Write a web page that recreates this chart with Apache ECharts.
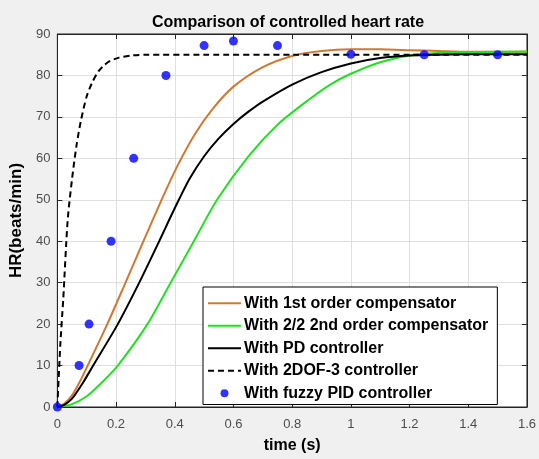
<!DOCTYPE html>
<html>
<head>
<meta charset="utf-8">
<script src="https://cdn.jsdelivr.net/npm/echarts@6/dist/echarts.min.js"></script>
<style>
html, body { margin: 0; padding: 0; background: #f0f0f0; }
#chart { width: 539px; height: 459px; }
</style>
</head>
<body>
<div id="chart"></div>
<script>
// values, [time (s), HR (beats/min)]
var firstOrder = [[0,0],[0.025,0.9],[0.05,2.8],[0.075,5.9],[0.1,9.5],[0.167,19.5],[0.223,28.5],[0.29,39.5],[0.352,49.5],[0.41,58.3],[0.47,66],[0.53,72],[0.6,77.3],[0.7,82],[0.8,84.7],[0.9,85.9],[1.0,86.3],[1.1,86.3],[1.2,86.1],[1.3,85.9],[1.4,85.7],[1.6,85.7]];
var secondOrder = [[0,0],[0.05,0.7],[0.1,2.6],[0.15,5.8],[0.206,10],[0.307,20],[0.386,30],[0.465,40],[0.544,50],[0.651,60.5],[0.753,68.3],[0.854,74],[0.93,77.8],[1.0,80.4],[1.1,83.2],[1.2,84.8],[1.3,85.4],[1.4,85.6],[1.5,85.7],[1.6,85.8]];
var pdCtrl = [[0,0],[0.025,0.6],[0.05,2],[0.085,5.6],[0.122,10],[0.206,20],[0.279,30],[0.347,40],[0.38,45],[0.414,50],[0.45,55],[0.5,60.5],[0.55,64.8],[0.6,68.3],[0.65,71.2],[0.7,73.7],[0.8,77.8],[0.9,80.8],[1.0,82.9],[1.1,84.2],[1.2,84.8],[1.3,85],[1.4,85.1],[1.6,85.1]];
var dof3 = [[0,0],[0.01,15],[0.02,26],[0.035,45],[0.05,55],[0.065,63],[0.08,69],[0.1,75],[0.12,78.5],[0.14,81],[0.16,82.5],[0.18,83.5],[0.21,84.3],[0.25,84.8],[0.3,85],[0.5,85],[0.8,85],[1.2,85],[1.6,85]];
var fuzzyPid = [[0,0],[0.074,10],[0.108,20],[0.183,40],[0.26,60],[0.37,80],[0.5,87.2],[0.6,88.3],[0.75,87.2],[1.0,85.1],[1.25,85],[1.5,85]];

var names = ['With 1st order compensator', 'With 2/2 2nd order compensator', 'With PD controller', 'With 2DOF-3 controller', 'With fuzzy PID controller'];
var xTicks = ['0', '0.2', '0.4', '0.6', '0.8', '1', '1.2', '1.4', '1.6'];

var FONT = 'Liberation Sans, Arial, Helvetica, sans-serif';

function lineSeries(name, data, color, dashed) {
    return {
        name: name,
        type: 'line',
        data: data,
        symbol: 'none',
        smooth: 0.25,
        lineStyle: { color: color, width: 2, type: dashed ? [6, 4] : 'solid' },
        itemStyle: { color: color },
        z: 3
    };
}

var myChart = echarts.init(document.getElementById('chart'), null, { renderer: 'canvas' });

function ticks() {
    return { show: true, inside: true, length: 5, lineStyle: { color: '#262626', width: 1 } };
}
function axLine() {
    return { show: true, onZero: false, lineStyle: { color: '#262626', width: 1 } };
}

// legend entries: hide the marker on line items, keep the line
var legendData = names.map(function (n, i) {
    if (i < 4) return { name: n, itemStyle: { opacity: 0 } };
    return { name: n, icon: 'circle' };
});

var option = {
    backgroundColor: '#f0f0f0',
    animation: false,
    title: {
        text: 'Comparison of controlled heart rate',
        left: 147, top: 10,
        textStyle: { fontFamily: FONT, fontSize: 16, fontWeight: 'bold', color: '#000' }
    },
    grid: {
        left: 54, right: 11, top: 34, bottom: 51.5,
        show: true, backgroundColor: '#fff', borderColor: '#262626', borderWidth: 1
    },
    legend: {
        orient: 'vertical',
        left: 203, top: 287,
        padding: [7, 9, 2, 4],
        itemGap: 4,
        itemWidth: 33, itemHeight: 8,
        backgroundColor: '#fff',
        borderColor: '#000', borderWidth: 1,
        textStyle: { fontFamily: FONT, fontSize: 16, fontWeight: 'bold', color: '#000', padding: [0, 0, 0, -2], lineHeight: 18.5 },
        data: legendData
    },
    xAxis: [{
        type: 'value', min: 0, max: 1.6, interval: 0.2,
        name: 'time (s)', nameLocation: 'middle', nameGap: 31,
        nameTextStyle: { fontFamily: FONT, fontSize: 16, fontWeight: 'bold', color: '#000' },
        axisLine: axLine(),
        axisTick: ticks(),
        axisLabel: {
            margin: 11, fontFamily: FONT, fontSize: 13, color: '#4d4d4d',
            formatter: function (v) { return xTicks[Math.round(v / 0.2)]; }
        },
        splitLine: { show: true, lineStyle: { color: '#dfdfdf', width: 1 } }
    }, {
        type: 'value', min: 0, max: 1.6, interval: 0.2, position: 'top',
        axisLine: axLine(), axisTick: ticks(), axisLabel: { show: false }, splitLine: { show: false }
    }],
    yAxis: [{
        type: 'value', min: 0, max: 90, interval: 10,
        name: 'HR(beats/min)', nameLocation: 'middle', nameGap: 20,
        nameTextStyle: { fontFamily: FONT, fontSize: 17, fontWeight: 'bold', color: '#000' },
        axisLine: axLine(),
        axisTick: ticks(),
        axisLabel: { margin: 7, fontFamily: FONT, fontSize: 13, color: '#4d4d4d' },
        splitLine: { show: true, lineStyle: { color: '#dfdfdf', width: 1 } }
    }, {
        type: 'value', min: 0, max: 90, interval: 10, position: 'right',
        axisLine: axLine(), axisTick: ticks(), axisLabel: { show: false }, splitLine: { show: false }
    }],
    series: [
        lineSeries(names[0], firstOrder, '#d0782f', false),
        lineSeries(names[1], secondOrder, '#22e022', false),
        lineSeries(names[2], pdCtrl, '#000000', false),
        lineSeries(names[3], dof3, '#000000', true),
        {
            name: names[4],
            type: 'scatter',
            data: fuzzyPid,
            symbol: 'circle',
            symbolSize: 9,
            itemStyle: { color: '#0000ff' },
            z: 4
        }
    ]
};

myChart.setOption(option);
</script>
</body>
</html>
